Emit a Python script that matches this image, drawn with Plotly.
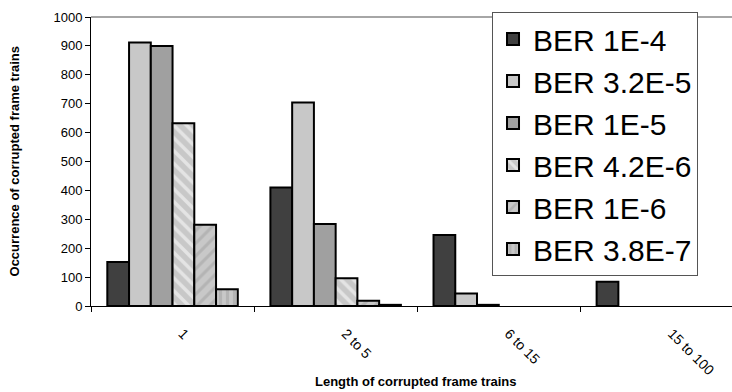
import plotly.graph_objects as go

# Length classes of corrupted frame trains
categories = ["1", "2 to 5", "6 to 15", "15 to 100"]

# Occurrences per bit error rate
ber_1e4 = [152, 410, 246, 84]
ber_3_2e5 = [912, 704, 43, 0]
ber_1e5 = [900, 284, 4, 0]
ber_4_2e6 = [632, 96, 0, 0]
ber_1e6 = [281, 18, 0, 0]
ber_3_8e7 = [58, 4, 0, 0]

series_names = ["BER 1E-4", "BER 3.2E-5", "BER 1E-5", "BER 4.2E-6", "BER 1E-6", "BER 3.8E-7"]
series_values = [ber_1e4, ber_3_2e5, ber_1e5, ber_4_2e6, ber_1e6, ber_3_8e7]

LIGHT = "#c8c8c8"
MID = "#a0a0a0"
styles = [
    dict(color="#404040"),
    dict(color=LIGHT),
    dict(color=MID),
    dict(color=LIGHT, pattern=dict(shape="\\", fgcolor="#ffffff", bgcolor=LIGHT, size=9, solidity=0.4)),
    dict(color=LIGHT, pattern=dict(shape="/", fgcolor=MID, bgcolor=LIGHT, size=9, solidity=0.35)),
    dict(color=LIGHT, pattern=dict(shape="|", fgcolor=MID, bgcolor=LIGHT, size=7, solidity=0.45)),
]

FONT = "Liberation Sans, Arial, sans-serif"

fig = go.Figure()
for name, vals, st in zip(series_names, series_values, styles):
    # empty bars get no outline so nothing is drawn on the baseline
    outline = [2 if v > 0 else 0 for v in vals]
    marker = dict(line=dict(color="#000000", width=outline), **st)
    fig.add_trace(go.Bar(x=categories, y=vals, name=name, marker=marker))

fig.update_layout(
    width=732, height=392,
    margin=dict(l=91, r=0, t=17, b=86),
    paper_bgcolor="white", plot_bgcolor="white",
    font=dict(family=FONT, color="#000000"),
    barmode="group", bargap=0.2, bargroupgap=0,
    showlegend=True,
    legend=dict(
        x=0.6256, y=1.017, xanchor="left", yanchor="top",
        bgcolor="white", bordercolor="#555555", borderwidth=1,
        font=dict(size=30, family=FONT), maxheight=400,
    ),
    xaxis=dict(
        type="category", range=[-0.5, 3.43],
        showline=True, linecolor="#000000", linewidth=1,
        ticks="outside", ticklen=5, tickcolor="#000000", tickson="boundaries",
        tickangle=45, tickfont=dict(size=14), ticklabelstandoff=13, ticklabelshift=10,
        showgrid=False,
    ),
    yaxis=dict(
        range=[0, 1000], dtick=100,
        showline=True, linecolor="#000000", linewidth=1,
        ticks="outside", ticklen=5, tickcolor="#000000",
        tickfont=dict(size=13), showgrid=False, zeroline=False,
    ),
    shapes=[dict(type="line", xref="paper", yref="paper", x0=0, x1=1, y0=1, y1=1,
                 line=dict(color="#888888", width=1.5))],
    annotations=[
        dict(text="<b>Length of corrupted frame trains</b>", xref="paper", yref="paper",
             x=0.507, y=-0.26, xanchor="center", yanchor="middle", showarrow=False,
             font=dict(size=13, family=FONT)),
        dict(text="<b>Occurrence of corrupted frame trains</b>", xref="paper", yref="paper",
             x=-0.1186, y=0.5, xanchor="center", yanchor="middle", showarrow=False,
             textangle=-90, font=dict(size=13, family=FONT)),
    ],
)

fig.write_html("out.html")
